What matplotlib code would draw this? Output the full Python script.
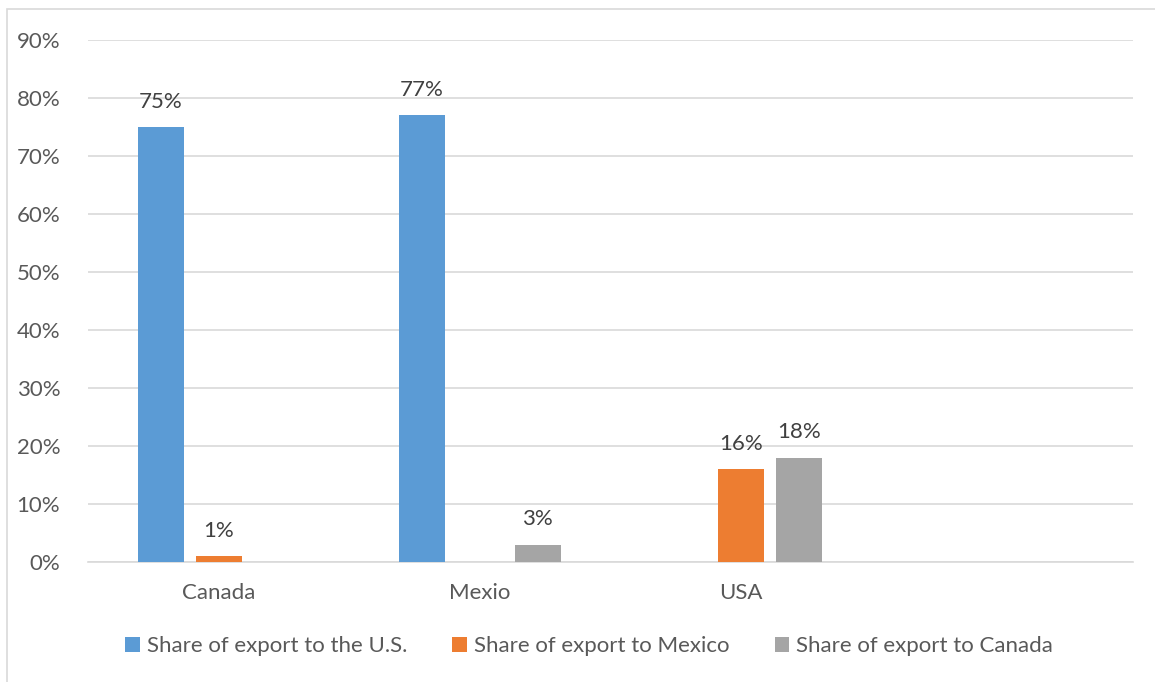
import matplotlib
matplotlib.use("Agg")
import matplotlib.pyplot as plt
from matplotlib.patches import Rectangle
import numpy as np

categories = ["Canada", "Mexio", "USA", ""]
series_names = ["Share of export to the U.S.", "Share of export to Mexico", "Share of export to Canada"]
share_us = [75, 77, 0, 0]
share_mexico = [1, 0, 16, 0]
share_canada = [0, 3, 18, 0]
colors = ["#5B9BD5", "#ED7D31", "#A5A5A5"]
yticks = [0, 10, 20, 30, 40, 50, 60, 70, 80, 90]

plt.rcParams['font.family'] = ['Lato', 'DejaVu Sans']
FS = 16

fig = plt.figure(figsize=(11.55, 6.82), dpi=100)
fig.patches.append(Rectangle((7/1155, -0.01), 1.1, (682-9)/682 + 0.01, transform=fig.transFigure,
                             fill=False, edgecolor="#D9D9D9", linewidth=1.2))
ax = fig.add_axes([88/1155, (682-562)/682, (1133-88)/1155, (562-40)/682])

x = np.arange(len(categories))
width = 0.176
offsets = [-0.222, 0.0, 0.222]
all_series = [share_us, share_mexico, share_canada]
handles = []
for vals, off, c, name in zip(all_series, offsets, colors, series_names):
    bars = ax.bar(x + off, vals, width, color=c, label=name, zorder=3)
    handles.append(bars)
    for xi, v in zip(x, vals):
        if v > 0:
            ax.annotate(f"{v}%", (xi + off, v), xytext=(0, 11), textcoords="offset points",
                        ha="center", va="bottom", fontsize=FS, color="#404040")

ax.set_xlim(-0.5, len(categories) - 0.5)
ax.set_ylim(0, 90)
ax.set_yticks(yticks)
ax.set_yticklabels([f"{t}%" for t in yticks])
ax.set_xticks(x)
ax.set_xticklabels(categories)
ax.tick_params(axis="both", length=0, labelsize=FS, colors="#595959")
ax.tick_params(axis="y", pad=20)
ax.tick_params(axis="x", pad=15)
ax.grid(axis="y", color="#D9D9D9", linewidth=1.2, zorder=0)
for sp in ["top", "right", "left"]:
    ax.spines[sp].set_visible(False)
ax.spines["bottom"].set_color("#D9D9D9")
ax.spines["bottom"].set_linewidth(1.2)

leg = fig.legend(handles=handles, labels=series_names, loc="center", bbox_to_anchor=(589/1155, (682-646)/682),
                 ncol=3, frameon=False, fontsize=FS, handlelength=0.65, handleheight=0.65,
                 handletextpad=0.3, columnspacing=2.05)
for t in leg.get_texts():
    t.set_color("#595959")

fig.savefig("out.png", dpi=100)
